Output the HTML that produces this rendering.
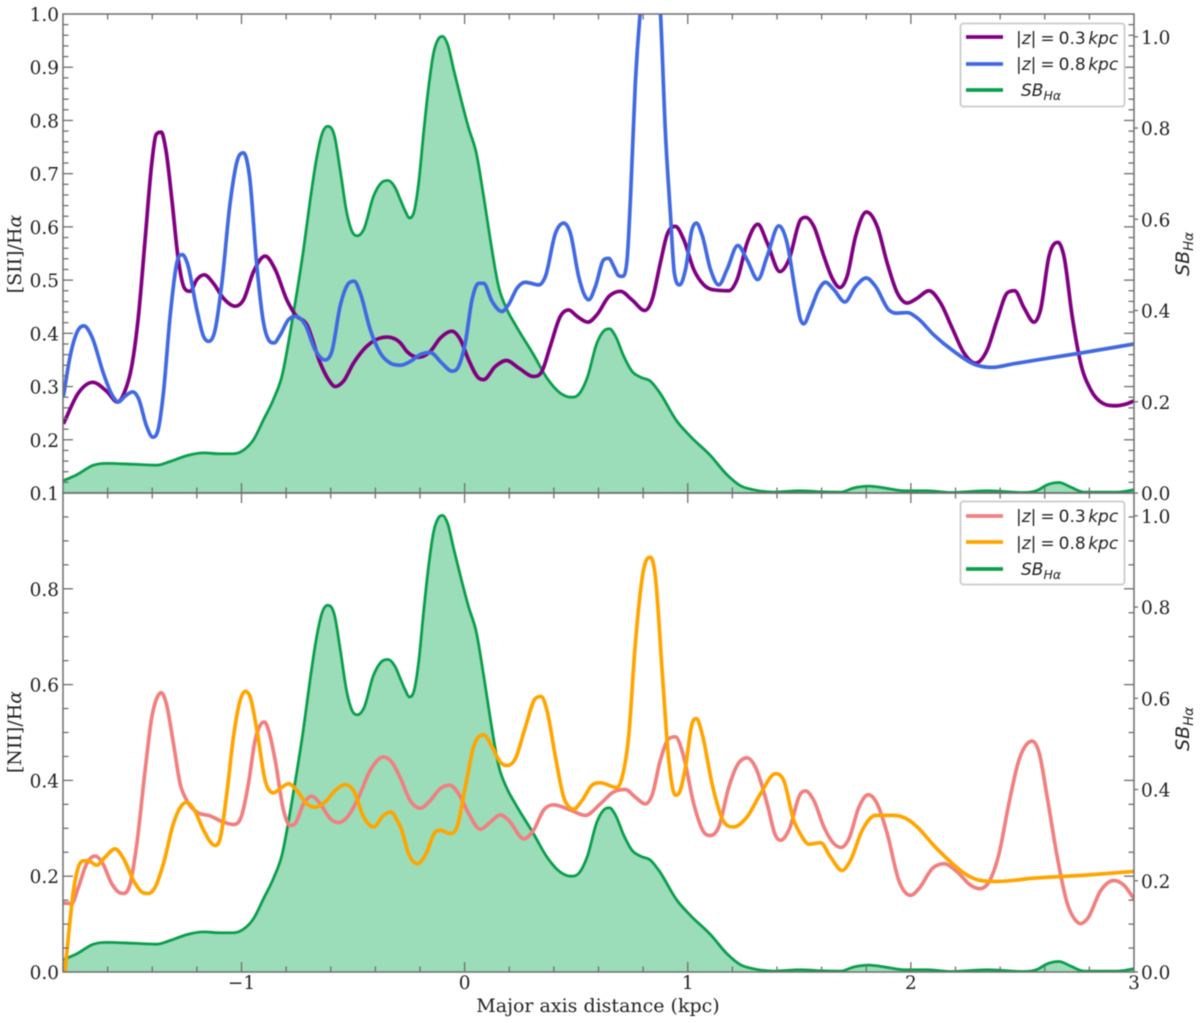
<!DOCTYPE html>
<html lang="en">
<head>
<meta charset="utf-8">
<title>Line ratios along the major axis</title>
<style>
html,body{margin:0;padding:0;background:#fff;width:1200px;height:1023px;overflow:hidden}
svg{display:block;filter:blur(0.45px)}
.tick-label{font-family:"DejaVu Serif","Liberation Serif",serif;font-size:18.5px;fill:#222}
.axis-label{font-family:"DejaVu Serif","Liberation Serif",serif;font-size:19px;fill:#222}
.math{font-family:"DejaVu Sans","Liberation Sans",sans-serif;font-size:17px;fill:#222}
.math-title{font-family:"DejaVu Sans","Liberation Sans",sans-serif;font-size:19px;fill:#222;font-style:italic}
</style>
</head>
<body>
<svg id="chart" xmlns="http://www.w3.org/2000/svg" width="1200" height="1023" viewBox="0 0 1200 1023">
  <defs>
    <clipPath id="clip-top"><rect x="63" y="14" width="1071" height="479"/></clipPath>
    <clipPath id="clip-bottom"><rect x="63" y="493" width="1071" height="479"/></clipPath>
  </defs>
  <g id="panel-top"></g>
  <g id="panel-bottom"></g>

  <text class="axis-label" transform="translate(21,254) rotate(-90)" text-anchor="middle">[SII]/H<tspan font-style="italic">α</tspan></text>
  <text class="axis-label" transform="translate(21,732) rotate(-90)" text-anchor="middle">[NII]/H<tspan font-style="italic">α</tspan></text>
  <text class="axis-label" x="598" y="1012" text-anchor="middle">Major axis distance (kpc)</text>
  <text class="math-title" transform="translate(1189,254) rotate(-90)" text-anchor="middle">SB<tspan font-size="13.3" dy="4">Hα</tspan></text>
  <text class="math-title" transform="translate(1189,729) rotate(-90)" text-anchor="middle">SB<tspan font-size="13.3" dy="4">Hα</tspan></text>

  <g>
    <rect x="960.5" y="23.5" width="164" height="83" rx="3" fill="#fff" fill-opacity="0.85" stroke="#d0d0d0" stroke-width="2"/>
    <line x1="966" x2="1003" y1="37" y2="37" stroke="#800080" stroke-width="3.7"/>
    <text class="math" x="1016" y="44">|<tspan font-style="italic">z</tspan>|<tspan dx="4">=</tspan><tspan dx="4">0.3</tspan><tspan dx="2.5" font-style="italic">kpc</tspan></text>
    <line x1="966" x2="1003" y1="64" y2="64" stroke="#4169e1" stroke-width="3.7"/>
    <text class="math" x="1016" y="70">|<tspan font-style="italic">z</tspan>|<tspan dx="4">=</tspan><tspan dx="4">0.8</tspan><tspan dx="2.5" font-style="italic">kpc</tspan></text>
    <line x1="966" x2="1003" y1="90" y2="90" stroke="#0a9e4c" stroke-width="3.7"/>
    <text class="math" x="1021" y="96" font-style="italic">SB<tspan font-size="12.5" dy="4">Hα</tspan></text>
  </g>
  <g>
    <rect x="960.5" y="501.5" width="164" height="83" rx="3" fill="#fff" fill-opacity="0.85" stroke="#d0d0d0" stroke-width="2"/>
    <line x1="966" x2="1003" y1="516" y2="516" stroke="#f08080" stroke-width="3.7"/>
    <text class="math" x="1016" y="522">|<tspan font-style="italic">z</tspan>|<tspan dx="4">=</tspan><tspan dx="4">0.3</tspan><tspan dx="2.5" font-style="italic">kpc</tspan></text>
    <line x1="966" x2="1003" y1="542" y2="542" stroke="#ffa500" stroke-width="3.7"/>
    <text class="math" x="1016" y="549">|<tspan font-style="italic">z</tspan>|<tspan dx="4">=</tspan><tspan dx="4">0.8</tspan><tspan dx="2.5" font-style="italic">kpc</tspan></text>
    <line x1="966" x2="1003" y1="569" y2="569" stroke="#0a9e4c" stroke-width="3.7"/>
    <text class="math" x="1021" y="575" font-style="italic">SB<tspan font-size="12.5" dy="4">Hα</tspan></text>
  </g>
</svg>
<script>
// ---------- data ----------
var xTickLabels = [-1, 0, 1, 2, 3];
var siiLeftTicks = [0.1, 0.2, 0.3, 0.4, 0.5, 0.6, 0.7, 0.8, 0.9, 1.0];
var niiLeftTicks = [0.0, 0.2, 0.4, 0.6, 0.8];
var rightTicks = [0.0, 0.2, 0.4, 0.6, 0.8, 1.0];

var siiNearX = [-1.798,-1.731,-1.667,-1.604,-1.556,-1.526,-1.492,-1.462,-1.432,-1.402,-1.383,-1.36,-1.339,-1.312,-1.283,-1.256,-1.23,-1.2,-1.167,-1.126,-1.081,-1.028,-0.991,-0.946,-0.894,-0.849,-0.797,-0.759,-0.707,-0.647,-0.61,-0.58,-0.543,-0.498,-0.438,-0.348,-0.288,-0.259,-0.206,-0.154,-0.109,-0.057,-0.019,0.018,0.063,0.085,0.138,0.187,0.242,0.309,0.347,0.384,0.429,0.466,0.504,0.553,0.593,0.646,0.698,0.75,0.807,0.84,0.877,0.907,0.945,0.982,1.027,1.072,1.132,1.184,1.221,1.266,1.314,1.356,1.413,1.453,1.505,1.528,1.565,1.61,1.647,1.682,1.714,1.752,1.801,1.849,1.894,1.939,1.984,2.028,2.081,2.133,2.185,2.238,2.29,2.342,2.387,2.432,2.465,2.507,2.552,2.581,2.619,2.659,2.686,2.723,2.761,2.806,2.858,2.918,2.97,3.0];
var siiNearY = [0.23,0.288,0.308,0.291,0.271,0.288,0.338,0.432,0.576,0.72,0.773,0.778,0.745,0.651,0.538,0.485,0.479,0.501,0.51,0.494,0.466,0.451,0.463,0.516,0.545,0.52,0.463,0.435,0.416,0.344,0.313,0.30,0.31,0.344,0.376,0.393,0.382,0.366,0.355,0.366,0.391,0.404,0.388,0.35,0.316,0.313,0.338,0.349,0.335,0.319,0.329,0.376,0.432,0.444,0.432,0.421,0.435,0.469,0.479,0.463,0.443,0.463,0.532,0.585,0.601,0.576,0.52,0.491,0.481,0.48,0.501,0.57,0.605,0.57,0.516,0.538,0.613,0.618,0.601,0.545,0.504,0.486,0.507,0.582,0.628,0.601,0.532,0.476,0.457,0.466,0.48,0.457,0.41,0.363,0.344,0.369,0.426,0.476,0.48,0.448,0.421,0.444,0.545,0.571,0.545,0.432,0.344,0.294,0.269,0.264,0.268,0.273];

var siiFarX = [-1.798,-1.768,-1.731,-1.706,-1.671,-1.619,-1.581,-1.552,-1.522,-1.487,-1.462,-1.425,-1.398,-1.372,-1.35,-1.32,-1.29,-1.265,-1.243,-1.2,-1.17,-1.148,-1.118,-1.088,-1.051,-1.018,-0.991,-0.964,-0.931,-0.901,-0.879,-0.854,-0.827,-0.789,-0.759,-0.714,-0.67,-0.625,-0.595,-0.558,-0.52,-0.495,-0.468,-0.423,-0.378,-0.333,-0.288,-0.244,-0.199,-0.154,-0.102,-0.057,-0.027,0.003,0.033,0.063,0.085,0.123,0.167,0.197,0.235,0.272,0.332,0.362,0.407,0.444,0.474,0.511,0.541,0.556,0.586,0.623,0.646,0.668,0.691,0.706,0.728,0.743,0.765,0.788,0.833,0.877,0.9,0.922,0.94,0.964,0.99,1.019,1.039,1.064,1.102,1.139,1.176,1.224,1.266,1.314,1.356,1.408,1.445,1.483,1.505,1.52,1.55,1.587,1.617,1.655,1.704,1.752,1.8,1.842,1.901,1.931,1.984,2.028,2.103,2.193,2.29,2.365,2.462,2.626,2.776,3.0];
var siiFarY = [0.282,0.357,0.407,0.414,0.394,0.325,0.285,0.271,0.282,0.29,0.278,0.225,0.205,0.222,0.288,0.432,0.532,0.548,0.532,0.444,0.394,0.385,0.407,0.494,0.645,0.726,0.739,0.695,0.526,0.419,0.388,0.382,0.397,0.426,0.432,0.416,0.369,0.35,0.366,0.451,0.494,0.498,0.476,0.407,0.363,0.344,0.34,0.347,0.36,0.364,0.344,0.329,0.338,0.382,0.463,0.494,0.494,0.46,0.441,0.454,0.485,0.496,0.491,0.507,0.588,0.607,0.588,0.507,0.469,0.463,0.488,0.538,0.541,0.526,0.508,0.507,0.538,0.651,0.87,1.008,1.12,1.008,0.776,0.626,0.513,0.491,0.52,0.595,0.607,0.585,0.52,0.491,0.52,0.565,0.538,0.501,0.545,0.602,0.57,0.476,0.426,0.418,0.444,0.482,0.496,0.482,0.459,0.488,0.504,0.488,0.444,0.438,0.439,0.429,0.397,0.366,0.341,0.336,0.343,0.354,0.364,0.38];

var halphaX = [-1.798,-1.738,-1.664,-1.604,-1.484,-1.38,-1.32,-1.245,-1.17,-1.096,-1.036,-0.991,-0.946,-0.901,-0.857,-0.819,-0.782,-0.752,-0.722,-0.692,-0.662,-0.64,-0.614,-0.583,-0.558,-0.528,-0.501,-0.48,-0.453,-0.408,-0.371,-0.344,-0.311,-0.288,-0.266,-0.247,-0.226,-0.206,-0.184,-0.161,-0.139,-0.117,-0.099,-0.076,-0.049,-0.012,0.018,0.052,0.085,0.115,0.152,0.19,0.227,0.309,0.369,0.429,0.477,0.511,0.549,0.593,0.623,0.649,0.676,0.713,0.75,0.788,0.833,0.87,0.952,1.012,1.102,1.176,1.236,1.296,1.386,1.505,1.58,1.685,1.744,1.812,1.894,1.969,2.073,2.178,2.342,2.507,2.567,2.611,2.664,2.716,2.776,2.925,3.0];
var halphaY = [0.027,0.04,0.061,0.065,0.063,0.061,0.069,0.082,0.088,0.086,0.086,0.094,0.117,0.161,0.205,0.256,0.351,0.439,0.534,0.643,0.738,0.786,0.804,0.782,0.709,0.614,0.57,0.564,0.577,0.651,0.681,0.685,0.669,0.643,0.618,0.603,0.618,0.68,0.789,0.892,0.965,0.996,1.001,0.983,0.928,0.855,0.8,0.746,0.651,0.556,0.453,0.402,0.369,0.303,0.252,0.219,0.21,0.216,0.252,0.329,0.355,0.36,0.344,0.3,0.267,0.254,0.245,0.223,0.157,0.124,0.082,0.04,0.016,0.007,0.002,0.005,0.003,0.002,0.011,0.015,0.01,0.005,0.005,0.001,0.005,0.001,0.006,0.018,0.023,0.013,0.002,0.002,0.007];

var niiNearX = [-1.798,-1.761,-1.731,-1.694,-1.656,-1.626,-1.581,-1.552,-1.529,-1.499,-1.469,-1.432,-1.402,-1.38,-1.36,-1.339,-1.305,-1.275,-1.245,-1.2,-1.141,-1.081,-1.036,-0.999,-0.969,-0.939,-0.916,-0.897,-0.879,-0.849,-0.812,-0.782,-0.759,-0.722,-0.685,-0.647,-0.602,-0.565,-0.52,-0.475,-0.423,-0.363,-0.326,-0.288,-0.244,-0.199,-0.154,-0.109,-0.067,-0.027,0.018,0.07,0.115,0.16,0.197,0.265,0.309,0.354,0.399,0.474,0.541,0.608,0.668,0.72,0.765,0.81,0.84,0.877,0.915,0.945,0.982,1.027,1.072,1.102,1.139,1.184,1.221,1.266,1.303,1.356,1.393,1.416,1.453,1.505,1.528,1.565,1.61,1.655,1.688,1.722,1.767,1.809,1.849,1.894,1.946,1.999,2.036,2.096,2.148,2.208,2.268,2.308,2.35,2.395,2.439,2.484,2.522,2.544,2.574,2.611,2.656,2.701,2.738,2.761,2.791,2.851,2.91,2.955,3.0];
var niiNearY = [0.144,0.143,0.177,0.226,0.242,0.23,0.184,0.167,0.164,0.184,0.268,0.421,0.532,0.571,0.583,0.564,0.477,0.393,0.358,0.334,0.326,0.313,0.308,0.327,0.393,0.484,0.515,0.522,0.505,0.442,0.338,0.306,0.31,0.351,0.367,0.351,0.32,0.312,0.327,0.365,0.421,0.449,0.438,0.405,0.358,0.342,0.358,0.383,0.39,0.372,0.331,0.298,0.313,0.328,0.317,0.278,0.296,0.338,0.349,0.338,0.327,0.351,0.376,0.381,0.365,0.351,0.369,0.442,0.487,0.491,0.449,0.351,0.292,0.285,0.303,0.386,0.431,0.447,0.428,0.351,0.285,0.275,0.296,0.372,0.378,0.358,0.303,0.268,0.26,0.278,0.344,0.37,0.351,0.289,0.191,0.16,0.174,0.216,0.226,0.209,0.181,0.174,0.188,0.247,0.351,0.442,0.477,0.482,0.459,0.365,0.24,0.143,0.108,0.101,0.111,0.17,0.191,0.181,0.153];

var niiFarX = [-1.791,-1.776,-1.753,-1.731,-1.709,-1.686,-1.649,-1.611,-1.567,-1.529,-1.484,-1.447,-1.417,-1.387,-1.35,-1.305,-1.268,-1.245,-1.215,-1.17,-1.133,-1.118,-1.096,-1.066,-1.036,-1.006,-0.984,-0.961,-0.931,-0.894,-0.857,-0.827,-0.789,-0.752,-0.707,-0.67,-0.625,-0.58,-0.535,-0.498,-0.453,-0.408,-0.363,-0.33,-0.303,-0.285,-0.251,-0.211,-0.176,-0.132,-0.109,-0.064,-0.034,0.003,0.04,0.085,0.123,0.16,0.19,0.227,0.272,0.317,0.344,0.369,0.407,0.444,0.474,0.489,0.526,0.571,0.608,0.683,0.706,0.735,0.765,0.803,0.833,0.855,0.885,0.915,0.945,0.964,0.99,1.019,1.039,1.064,1.109,1.154,1.206,1.266,1.326,1.393,1.43,1.475,1.505,1.543,1.595,1.64,1.692,1.729,1.782,1.842,1.924,1.991,2.028,2.103,2.178,2.253,2.312,2.387,2.552,2.776,3.0];
var niiFarY = [0.0,0.073,0.17,0.219,0.232,0.232,0.223,0.24,0.257,0.237,0.191,0.167,0.164,0.177,0.226,0.31,0.348,0.354,0.341,0.296,0.268,0.264,0.278,0.372,0.491,0.567,0.586,0.574,0.505,0.4,0.374,0.383,0.393,0.379,0.351,0.344,0.355,0.379,0.391,0.379,0.324,0.303,0.327,0.334,0.317,0.3,0.247,0.226,0.244,0.292,0.296,0.289,0.303,0.386,0.47,0.495,0.47,0.438,0.431,0.445,0.511,0.571,0.575,0.546,0.449,0.365,0.342,0.34,0.358,0.39,0.395,0.385,0.407,0.491,0.685,0.842,0.866,0.825,0.63,0.442,0.369,0.376,0.428,0.518,0.529,0.498,0.393,0.32,0.303,0.324,0.372,0.414,0.4,0.317,0.288,0.267,0.27,0.24,0.212,0.233,0.296,0.327,0.327,0.317,0.303,0.264,0.23,0.202,0.191,0.189,0.196,0.202,0.21];

// ---------- axis functions ----------
var SVGNS = 'http://www.w3.org/2000/svg';
var X_LEFT = 63, X_RIGHT = 1134, X_MIN = -1.8, X_MAX = 3;
var AXIS_COLOR = '#6e6e6e';
function xScale(v) { return X_LEFT + (v - X_MIN) / (X_MAX - X_MIN) * (X_RIGHT - X_LEFT); }
function linear(d0, d1, r0, r1) { return function (v) { return r0 + (v - d0) / (d1 - d0) * (r1 - r0); }; }
var yTopLeft = linear(0.1, 1.0, 493, 14);
var yTopRight = linear(0, 1.05, 493, 14);
var yBottomLeft = linear(0, 1.0, 972, 493);
var yBottomRight = linear(0, 1.05, 972, 493);

function make(parent, tag, attrs, text) {
  var el = document.createElementNS(SVGNS, tag);
  for (var k in attrs) { el.setAttribute(k, attrs[k]); }
  if (text !== undefined) { el.textContent = text; }
  parent.appendChild(el);
  return el;
}

// Smooth cubic through the read-off points (flat at local extrema), returned as bezier path commands.
function curveSegments(xs, ys, yFn) {
  var n = xs.length, px = [], py = [], d = [], m = [], i;
  for (i = 0; i < n; i++) { px.push(xScale(xs[i])); py.push(yFn(ys[i])); }
  for (i = 0; i < n - 1; i++) { d.push((py[i + 1] - py[i]) / (px[i + 1] - px[i])); }
  m[0] = d[0]; m[n - 1] = d[n - 2];
  for (i = 1; i < n - 1; i++) {
    if (d[i - 1] * d[i] <= 0) { m[i] = 0; }
    else {
      var h0 = px[i] - px[i - 1], h1 = px[i + 1] - px[i];
      var t = (d[i - 1] * h1 + d[i] * h0) / (h0 + h1);
      var lim = 3 * Math.min(Math.abs(d[i - 1]), Math.abs(d[i]));
      m[i] = Math.abs(t) > lim ? (t > 0 ? lim : -lim) : t;
    }
  }
  var out = '';
  for (i = 0; i < n - 1; i++) {
    var h = (px[i + 1] - px[i]) / 3;
    out += ' C' + (px[i] + h).toFixed(2) + ' ' + (py[i] + m[i] * h).toFixed(2) + ' ' +
      (px[i + 1] - h).toFixed(2) + ' ' + (py[i + 1] - m[i + 1] * h).toFixed(2) + ' ' +
      px[i + 1].toFixed(2) + ' ' + py[i + 1].toFixed(2);
  }
  return { start: 'M' + px[0].toFixed(2) + ' ' + py[0].toFixed(2), body: out, x0: px[0], x1: px[n - 1] };
}

function drawSeries(group, clip, xs, ys, yFn, color, width, name) {
  var c = curveSegments(xs, ys, yFn);
  var p = make(group, 'path', { d: c.start + c.body, fill: 'none', stroke: color, 'stroke-width': width, 'stroke-linejoin': 'round', 'clip-path': clip });
  
  
}

function drawHalpha(group, clip, yFn, baseY, prefix) {
  var c = curveSegments(halphaX, halphaY, yFn);
  var area = make(group, 'path', {
    d: 'M' + c.x0.toFixed(2) + ' ' + baseY + ' L' + c.start.slice(1) + c.body + ' L' + c.x1.toFixed(2) + ' ' + baseY + ' Z',
    fill: '#9bdcb9', stroke: 'none', 'clip-path': clip
  });
  
  
  var line = make(group, 'path', { d: c.start + c.body, fill: 'none', stroke: '#0a9e4c', 'stroke-width': 2.8, 'clip-path': clip });
  
  
}

function tickLine(group, x1, y1, x2, y2, name) {
  var t = make(group, 'line', { x1: x1, y1: y1, x2: x2, y2: y2, stroke: AXIS_COLOR, 'stroke-width': 1.3 });
  
  
}

function drawAxes(group, top, bottom, yLeft, yRight, leftTicks, minorStep, prefix, showXLabels) {
  var i, v, x, y;
  // vertical tick marks on top and bottom edges
  for (i = -8; i <= 15; i++) {
    v = i * 0.2;
    x = xScale(v);
    var major = (i % 5 === 0);
    var len = major ? 10 : 5.5;
    if (v > X_MIN + 0.01 && v < X_MAX - 0.01) {
      tickLine(group, x, top, x, top + len, prefix + '-top-x-tick');
      tickLine(group, x, bottom, x, bottom - len, prefix + '-bottom-x-tick');
    }
  }
  // left-axis minor and major ticks mirrored onto the right edge
  var lo = leftTicks[0], hi = 1.0;
  var count = Math.round((hi - lo) / minorStep);
  var everyMajor = Math.round((leftTicks[1] - leftTicks[0]) / minorStep);
  for (i = 1; i < count; i++) {
    v = lo + i * minorStep;
    y = yLeft(v);
    var tl = (i % everyMajor === 0) ? 10 : 5.5;
    tickLine(group, X_LEFT, y, X_LEFT + tl, y, prefix + '-left-y-tick');
    tickLine(group, X_RIGHT, y, X_RIGHT - tl, y, prefix + '-right-mirror-y-tick');
  }
  // left labels
  leftTicks.forEach(function (tv) {
    var label = make(group, 'text', { x: 59, y: yLeft(tv) + 7, 'text-anchor': 'end', 'class': 'tick-label' }, tv.toFixed(1));
    
    
  });
  // right twin-axis ticks and labels
  rightTicks.forEach(function (tv) {
    var ry = yRight(tv);
    tickLine(group, X_RIGHT, ry, X_RIGHT + 4, ry, prefix + '-right-y-tick');
    var label = make(group, 'text', { x: 1141, y: ry + 7, 'class': 'tick-label' }, tv.toFixed(1));
    
    
  });
  // frame
  var frame = make(group, 'rect', { x: X_LEFT, y: top, width: X_RIGHT - X_LEFT, height: bottom - top, fill: 'none', stroke: AXIS_COLOR, 'stroke-width': 1.5 });
  
  
  // x labels
  if (showXLabels) {
    xTickLabels.forEach(function (tv) {
      var label = make(group, 'text', { x: xScale(tv), y: bottom + 17, 'text-anchor': 'middle', 'class': 'tick-label' }, tv < 0 ? '\u2212' + Math.abs(tv) : String(tv));
      
      
    });
  }
}

// ---------- panels ----------
var topGroup = document.getElementById('panel-top');
var bottomGroup = document.getElementById('panel-bottom');

drawHalpha(topGroup, 'url(#clip-top)', yTopRight, 493, 'sii');
drawSeries(topGroup, 'url(#clip-top)', siiNearX, siiNearY, yTopLeft, '#800080', 3.7, 'sii-near-plane-line');
drawSeries(topGroup, 'url(#clip-top)', siiFarX, siiFarY, yTopLeft, '#4169e1', 3.7, 'sii-far-plane-line');
drawAxes(topGroup, 14, 493, yTopLeft, yTopRight, siiLeftTicks, 0.02, 'sii', false);

drawHalpha(bottomGroup, 'url(#clip-bottom)', yBottomRight, 972, 'nii');
drawSeries(bottomGroup, 'url(#clip-bottom)', niiNearX, niiNearY, yBottomLeft, '#f08080', 3.7, 'nii-near-plane-line');
drawSeries(bottomGroup, 'url(#clip-bottom)', niiFarX, niiFarY, yBottomLeft, '#ffa500', 3.7, 'nii-far-plane-line');
drawAxes(bottomGroup, 493, 972, yBottomLeft, yBottomRight, niiLeftTicks, 0.05, 'nii', true);
</script>
</body>
</html>
